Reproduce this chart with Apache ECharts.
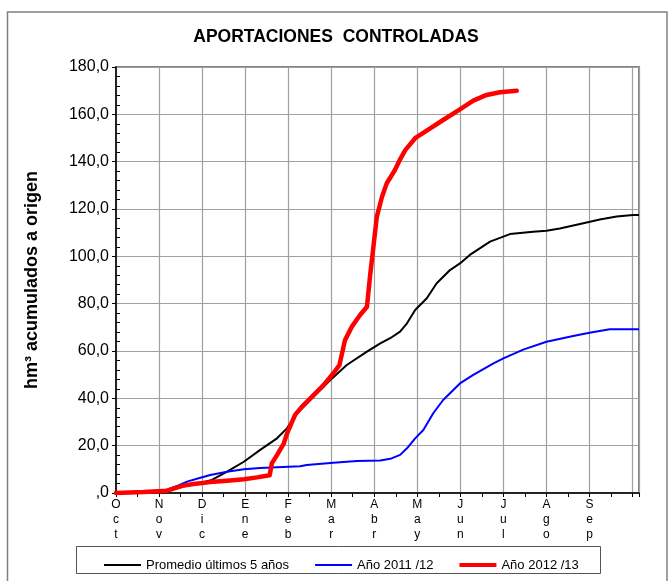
<!DOCTYPE html>
<html>
<head>
    <meta charset="utf-8">
    <title>Aportaciones controladas</title>
    <style>
        html, body { margin: 0; padding: 0; background: #fff; }
        #chart { width: 672px; height: 581px; }
    </style>
</head>
<body>
<div id="chart"></div>
<script src="https://cdn.jsdelivr.net/npm/echarts@6/dist/echarts.min.js"></script>
<script>
    // meses del año hidrológico (0 = 1 de octubre)
    let monthLabels = ['Oct', 'Nov', 'Dic', 'Ene', 'Feb', 'Mar', 'Abr', 'May', 'Jun', 'Jul', 'Ago', 'Sep'];

    // [mes, hm3 acumulados]
    let promedio = [
        [0, 0], [0.6, 0.4], [1.0, 0.8], [1.2, 1.2], [1.5, 2.6], [1.8, 3.6], [2.0, 4.4], [2.23, 5.5],
        [2.58, 9], [2.97, 13.2], [3.35, 18.2], [3.74, 23.1], [3.97, 27.3], [4.2, 33.5], [4.59, 40.7],
        [4.98, 47.7], [5.36, 54.1], [5.83, 59.7], [6.14, 63.2], [6.37, 65.4], [6.6, 68.2], [6.76, 71.7],
        [6.95, 77.3], [7.22, 82.3], [7.45, 88.6], [7.76, 94.2], [7.99, 97], [8.22, 100.6], [8.69, 106.2],
        [9.15, 109.4], [9.69, 110.4], [10.0, 110.8], [10.31, 111.8], [10.78, 113.7], [11.24, 115.6],
        [11.63, 116.8], [12.01, 117.5], [12.15, 117.5]
    ];
    let anio2011 = [
        [0, 0], [0.6, 0.4], [1.0, 0.8], [1.2, 1.5], [1.45, 3.2], [1.65, 4.8], [1.92, 6.2], [2.19, 7.6],
        [2.58, 9], [2.97, 10], [3.35, 10.6], [3.74, 10.9], [4.28, 11.3], [4.43, 11.8], [5.05, 12.8],
        [5.6, 13.5], [6.14, 13.7], [6.4, 14.6], [6.6, 16.1], [6.76, 18.9], [6.95, 23.1], [7.14, 26.6],
        [7.37, 33.7], [7.6, 39.3], [7.99, 46.3], [8.3, 49.9], [8.77, 54.8], [9.0, 56.9], [9.46, 60.6],
        [10.0, 63.9], [10.62, 66.3], [11.0, 67.7], [11.47, 69.2], [12.15, 69.2]
    ];
    let anio2012 = [
        [0, 0], [0.64, 0.4], [1.19, 1], [1.54, 3], [1.8, 3.8], [2.19, 4.6], [2.58, 5.2], [2.97, 5.8],
        [3.28, 6.6], [3.57, 7.5], [3.62, 12.5], [3.74, 16], [3.9, 21], [3.97, 25], [4.16, 33], [4.32, 36.5],
        [4.59, 41.4], [4.82, 45.6], [5.05, 50.6], [5.19, 54], [5.32, 64.6], [5.48, 70.3], [5.67, 75.2],
        [5.83, 78.7], [5.9, 91.4], [5.98, 104], [6.06, 116.8], [6.18, 125.2], [6.29, 130.9], [6.48, 136.5],
        [6.6, 141], [6.72, 144.9], [6.95, 149.9], [7.3, 154.1], [7.6, 157.6], [7.99, 162.1], [8.3, 165.8],
        [8.61, 168.2], [8.92, 169.3], [9.31, 170]
    ];

    let myChart = echarts.init(document.getElementById('chart'));
    let font = 'Liberation Sans, Arial, sans-serif';

    // iconos de leyenda: solo una raya (el marco invisible fija el tamaño 37x14)
    let thinLine = 'path://M0,0M37,14M0,6.1L37,6.1L37,7.9L0,7.9Z';
    let thickLine = 'path://M0,0M37,14M0,5L37,5L37,9L0,9Z';

    let option = {
        animation: false,
        backgroundColor: '#fff',
        textStyle: { fontFamily: font },
        title: {
            text: 'APORTACIONES  CONTROLADAS',
            left: 'center',
            top: 23,
            textStyle: { fontSize: 17.5, fontWeight: 'bold', color: '#000', fontFamily: font }
        },
        grid: {
            left: 116,
            top: 67,
            right: 33,
            bottom: 88,
            show: true,
            borderColor: '#808080',
            borderWidth: 2
        },
        graphic: [
            {
                type: 'rect',
                shape: { x: 7.5, y: 12, width: 659.5, height: 620 },
                style: { fill: 'none', stroke: '#808080', lineWidth: 1.5 },
                silent: true
            },
            {
                type: 'rect',
                shape: { x: 76.5, y: 546.5, width: 524, height: 27 },
                style: { fill: 'none', stroke: '#555', lineWidth: 1 },
                silent: true
            }
        ],
        legend: {
            left: 99,
            top: 553,
            itemWidth: 37,
            itemHeight: 14,
            itemGap: 26,
            itemStyle: { borderWidth: 0 },
            textStyle: { fontSize: 13, color: '#000', fontFamily: font },
            data: [
                { name: 'Promedio últimos 5 años', icon: thinLine },
                { name: 'Año 2011 /12', icon: thinLine },
                { name: 'Año 2012 /13', icon: thickLine }
            ]
        },
        xAxis: {
            type: 'value',
            min: 0,
            max: 12.15,
            interval: 1,
            axisLine: { show: true, lineStyle: { color: '#000', width: 1.5 } },
            axisTick: { show: true, length: 4, lineStyle: { color: '#000' } },
            minorTick: { show: true, splitNumber: 2, length: 4, lineStyle: { color: '#000' } },
            splitLine: { show: true, lineStyle: { color: '#a0a0a0', width: 1.2 } },
            axisLabel: {
                margin: 4,
                fontSize: 12,
                lineHeight: 15,
                color: '#000',
                showMaxLabel: false,
                formatter: function (v) {
                    let m = monthLabels[Math.round(v)];
                    return m ? m.split('').join('\n') : '';
                }
            }
        },
        yAxis: [
            {
                type: 'value',
                min: 0,
                max: 180,
                interval: 20,
                name: 'hm³ acumulados a origen',
                nameLocation: 'middle',
                nameGap: 75,
                nameTextStyle: { fontSize: 18, fontWeight: 'bold', color: '#000', fontFamily: font },
                axisLine: { show: true, lineStyle: { color: '#000', width: 1.5 } },
                axisTick: { show: true, length: 4, lineStyle: { color: '#000' } },
                splitLine: { show: true, lineStyle: { color: '#a0a0a0', width: 1.2 } },
                axisLabel: {
                    margin: 7,
                    fontSize: 16,
                    color: '#000',
                    formatter: function (v) {
                        return v === 0 ? ',0' : v.toFixed(1).replace('.', ',');
                    }
                }
            },
            {
                // solo para las marcas menores hacia dentro
                type: 'value',
                position: 'left',
                min: 0,
                max: 180,
                interval: 20,
                axisLine: { show: false },
                axisTick: { show: false, inside: true },
                minorTick: { show: true, splitNumber: 5, length: 4, lineStyle: { color: '#000' } },
                axisLabel: { show: false },
                splitLine: { show: false }
            }
        ],
        series: [
            {
                name: 'Promedio últimos 5 años',
                type: 'line',
                symbol: 'none',
                color: '#000',
                lineStyle: { color: '#000', width: 2, join: 'round' },
                data: promedio
            },
            {
                name: 'Año 2011 /12',
                type: 'line',
                symbol: 'none',
                color: '#0000ff',
                lineStyle: { color: '#0000ff', width: 2, join: 'round' },
                data: anio2011
            },
            {
                name: 'Año 2012 /13',
                type: 'line',
                symbol: 'none',
                color: '#ff0000',
                lineStyle: { color: '#ff0000', width: 4.5, join: 'round', cap: 'round' },
                data: anio2012
            }
        ]
    };

    myChart.setOption(option);
</script>
</body>
</html>
